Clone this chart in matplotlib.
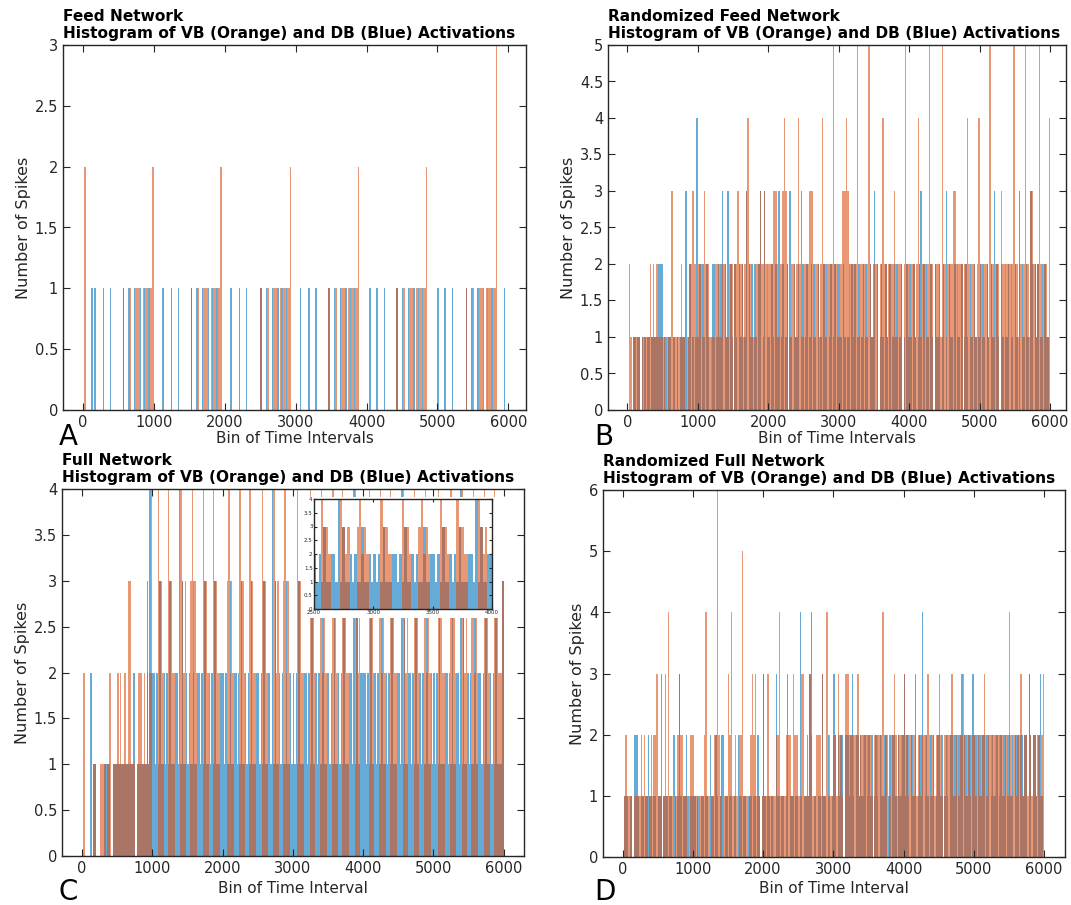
import numpy as np
import matplotlib
matplotlib.use("Agg")
import matplotlib.pyplot as plt
from matplotlib.patches import Rectangle

# counts per bin of 20 time intervals (bins 0..299), one digit per bin, 50 bins per row
BIN_WIDTH = 20

feed_vb_rows = [
    "02" "00000000000000000000000000" "1000010001110010110112",
    "00000000000000000000000000" "1000010001110010110112" "00",
    "0000000000000000000000000" "1000010001110010110112" "000",
    "00000000000000000000000" "1000010001110010110112" "00000",
    "000000000000000000000" "1000010001110010110112" "0000000",
    "00000000000000000000" "1000010001110010110113" "00000000",
]
feed_db_rows = [
    "000000" "1" "0" "1" "00000" "1" "0000" "1" "00000000" "1000100010001001001000",
    "000000" "1" "00000" "1" "0000" "1" "00000000" "1000100010001001001000" "00",
    "0000" "1" "00000" "1" "0000" "1" "000000000" "1000100010001001001000" "000",
    "000" "1" "00000" "1" "0000" "1" "00000000" "1000100010001001001000" "00000",
    "00" "1" "0000" "1" "0000" "1" "00000000" "1000100010001001001000" "0000000",
    "1" "0000" "1" "0000" "1" "000000000" "1000100010001001001000" "00000" "1" "00",
]

rand_feed_vb_rows = [
    "0210111110" "1111112121" "2211111011" "1311111121" "1011223221",
    "2221322210" "1122221222" "1122202232" "2212342211" "1222322321",
    "2223332122" "3432012221" "2421122223" "3312220242" "2122225221",
    "1233343122" "2225122221" "2521122202" "2422122223" "2122202522",
    "1222124212" "2212522022" "2215221222" "2332122202" "2421222124",
    "2212221522" "1222032212" "2212522122" "1252213322" "1252122214",
]
rand_feed_db_rows = [
    "0000110110" "1010110111" "1122201101" "1011010111" "1301201014",
    "1202102101" "2201212302" "1302102102" "1201302120" "2102301302",
    "1021021301" "2012031021" "1203201201" "2021021102" "1201201202",
    "2102101202" "1201201202" "1021230201" "2102102012" "1201201021",
    "2102101230" "2021021021" "1201203021" "1020210201" "2102102101",
    "2021021021" "3021021021" "2021021030" "2102103202" "1201202110",
]

full_vb_rows = [
    "0200000011" "0001111012" "2011121211" "2113311101" "2221212124",
    "00004332" "00043322" "00004323" "00034232" "00004332" "00043322" "00",
    "00034232" "00004332" "00043322" "00004332" "00004323" "00034232" "00",
    "00043322" "00004332" "00034232" "00004332" "00043322" "00004323" "00",
    "00004332" "00034232" "00043322" "00004323" "00004332" "00034232" "00",
    "00043322" "00004332" "00004323" "00034232" "00004332" "00043322" "23",
]
full_db_rows = [
    "0000002011" "0000001111" "0011111111" "1111112201" "1111113142",
    "22121311" "21213111" "22141311" "21211311" "22121311" "21213111" "22",
    "21211311" "22121311" "21213111" "22121311" "22141311" "21211311" "21",
    "21213111" "22121311" "21211311" "22121311" "21213111" "22141311" "22",
    "22121311" "21211311" "21213111" "22141311" "22121311" "21211311" "21",
    "21213111" "22121311" "22141311" "21211311" "22121311" "21213111" "13",
]

rand_full_vb_rows = [
    "0121111011" "1112121101" "2122311101" "3141110112" "3221110122",
    "2111011124" "1101122621" "1011132411" "2102251110" "1232311101",
    "3113111012" "2411112222" "1322211331" "1113211122" "2131141211",
    "2213221033" "3222122312" "2122122102" "2122141220" "1223212212",
    "3221221221" "2212212321" "2212232102" "2122321221" "2232122122",
    "2122122321" "2212212212" "2122142122" "1223112213" "2122122123",
]
rand_full_db_rows = [
    "0111011022" "2101101121" "1011011301" "1101102101" "3101121011",
    "1101101101" "1021102101" "2201101101" "1021101101" "1101102101",
    "3101101103" "1101101301" "1101104101" "1213401101" "1031102101",
    "3202122022" "2123202212" "1220221201" "2202212201" "2022102122",
    "3122022130" "1224022102" "1201221201" "2202212202" "2302212203",
    "2202212202" "2022122022" "1220221202" "2202212203" "2022102310",
]

title_line = "Histogram of VB (Orange) and DB (Blue) Activations"
BLUE = (0.0, 0.447, 0.741)
ORANGE = (0.85, 0.325, 0.098)
AXCOL = "#262626"


def to_counts(rows):
    counts = np.array([int(c) for c in "".join(rows)])
    assert counts.size == 300, counts.size
    return counts


def draw_bars(ax, vb, db):
    edges = np.arange(vb.size) * BIN_WIDTH
    for counts, col in ((db, BLUE), (vb, ORANGE)):
        nz = counts > 0
        ax.bar(edges[nz], counts[nz], width=BIN_WIDTH, align="edge", color=col,
               alpha=0.6, linewidth=0)


def style_axes(ax, size=10.5, length=5):
    ax.tick_params(direction="in", top=True, right=True, labelsize=size,
                   colors=AXCOL, length=length, width=0.8)
    for sp in ax.spines.values():
        sp.set_color(AXCOL)
        sp.set_linewidth(1.0)


def plot_panel(ax, vb, db, title, xlabel, xlim, ymax, ystep, xpad=1):
    draw_bars(ax, vb, db)
    ax.set_xlim(xlim)
    ax.set_ylim(0, ymax)
    ax.set_xticks(np.arange(0, 6001, 1000))
    yt = np.arange(0, ymax + 0.01, ystep)
    ax.set_yticks(yt)
    ax.set_yticklabels(["%g" % v for v in yt])
    style_axes(ax)
    ax.set_xlabel(xlabel, fontsize=11, color=AXCOL, labelpad=xpad)
    ax.set_ylabel("Number of Spikes", fontsize=11.5, color=AXCOL, labelpad=3)
    ax.set_title(title + "\n" + title_line, loc="left", fontsize=11.1,
                 fontweight="bold", pad=5, linespacing=1.2)


if __name__ == "__main__":
    plt.rcParams["font.family"] = ["DejaVu Sans"]
    W, H = 1071, 905
    fig = plt.figure(figsize=(W / 100, H / 100), dpi=100)

    def px_axes(left, top, right, bottom):
        return fig.add_axes([left / W, 1 - bottom / H, (right - left) / W, (bottom - top) / H])

    ax_a = px_axes(63, 45, 526, 410)
    ax_b = px_axes(608, 45, 1066, 410)
    ax_c = px_axes(62, 489, 524, 856)
    ax_d = px_axes(603, 490, 1065, 857)

    feed_vb, feed_db = to_counts(feed_vb_rows), to_counts(feed_db_rows)
    rfeed_vb, rfeed_db = to_counts(rand_feed_vb_rows), to_counts(rand_feed_db_rows)
    full_vb, full_db = to_counts(full_vb_rows), to_counts(full_db_rows)
    rfull_vb, rfull_db = to_counts(rand_full_vb_rows), to_counts(rand_full_db_rows)

    plot_panel(ax_a, feed_vb, feed_db, "Feed Network", "Bin of Time Intervals",
               (-282, 6250), 3, 0.5)
    plot_panel(ax_b, rfeed_vb, rfeed_db, "Randomized Feed Network", "Bin of Time Intervals",
               (-276, 6227), 5, 0.5)
    plot_panel(ax_c, full_vb, full_db, "Full Network", "Bin of Time Interval",
               (-284, 6288), 4, 0.5, xpad=4)
    plot_panel(ax_d, rfull_vb, rfull_db, "Randomized Full Network", "Bin of Time Interval",
               (-279, 6299), 6, 1, xpad=3)

    # panel letters
    for letter, (x, y) in zip("ABCD", [(59, 445), (594, 445), (58, 900), (594, 900)]):
        fig.text(x / W, 1 - y / H, letter, fontsize=20, ha="left", va="baseline")

    # inset zoom of the full network
    fig.add_artist(Rectangle((302 / W, 1 - 618 / H), 198 / W, 121 / H,
                             transform=fig.transFigure, facecolor="white",
                             edgecolor="none", zorder=1.5))
    ins = px_axes(314, 499, 492, 609)
    ins.set_zorder(3)
    draw_bars(ins, full_vb, full_db)
    ins.set_xlim(2500, 4000)
    ins.set_ylim(0, 4)
    ins.set_xticks([2500, 3000, 3500, 4000])
    yt = np.arange(0, 4.01, 0.5)
    ins.set_yticks(yt)
    ins.set_yticklabels(["%g" % v for v in yt])
    style_axes(ins, size=4, length=2)
    ins.tick_params(pad=1)

    fig.savefig("out.png", dpi=100)
